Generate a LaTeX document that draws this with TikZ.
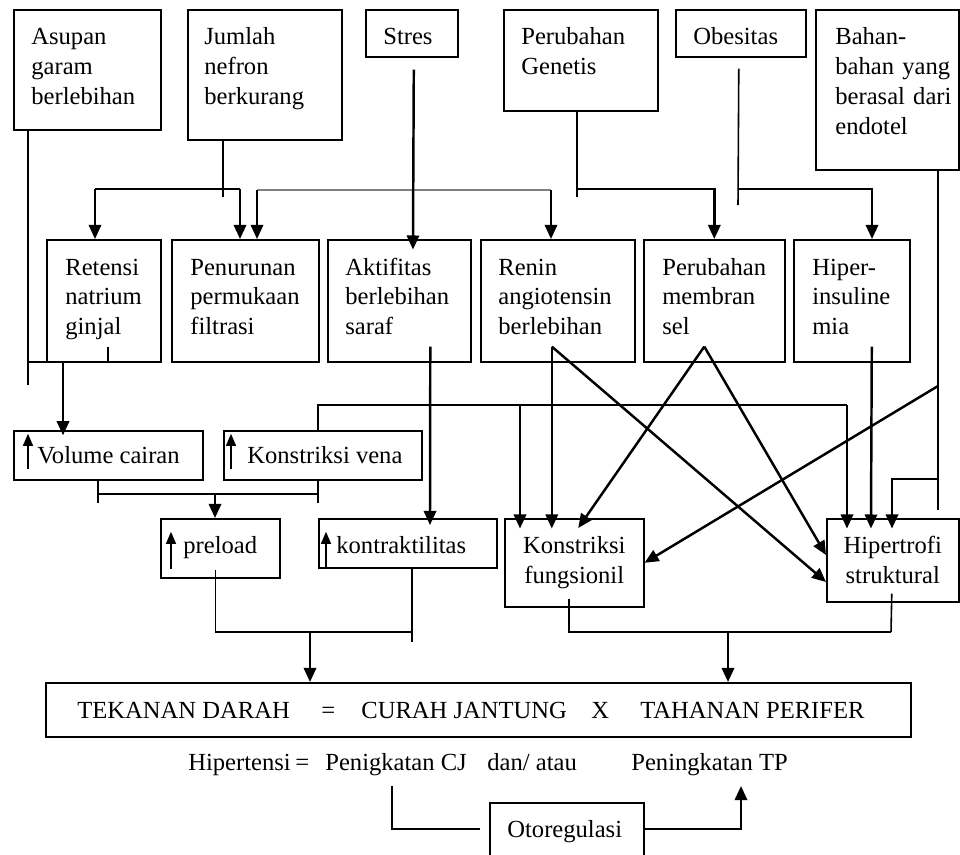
\documentclass[tikz,border=0pt]{standalone}
\usepackage{fontspec}
\setmainfont{Liberation Serif}
\usetikzlibrary{arrows.meta,calc}

\tikzset{
  kotak/.style={draw, line width=0.9pt, anchor=north west, inner sep=0pt},
  isi/.style={anchor=base west, align=left, text width=2.9cm, inner sep=0pt},
  satu/.style={anchor=base west, inner sep=0pt},
  ln/.style={line width=0.9pt},
  panah/.style={line width=1.4pt, -{Triangle[length=8pt,width=7pt]}},
  masuk/.style={shorten >=-6pt},
  naik/.style={line width=1.4pt, -{Triangle[length=7pt,width=5.5pt]}},
}
\def\kotak[#1](#2,#3)(#4,#5){%
  \pgfmathsetmacro\kw{(#4-#2)*0.02}%
  \pgfmathsetmacro\kh{(#5-#3)*0.02}%
  \node[kotak, minimum width=\kw cm, minimum height=\kh cm] (#1) at (#2,#3) {};}

\begin{document}
\begin{tikzpicture}[x=0.02cm, y=-0.02cm, font=\fontsize{14}{17}\selectfont]
  \clip (0,0) rectangle (960,855);
  %%%%% penyebab %%%%%
  \kotak[asupan](13,9)(160,129)
  \kotak[jumlah](187,9)(341,139)
  \kotak[stres](365,9)(457,56)
  \kotak[genetis](503,9)(657,110)
  \kotak[obesitas](675,9)(805,56)
  \kotak[bahan](815,9)(958,169)
  \node[isi] (asupan-t) at ($(asupan.north west)+(18,36)$) {Asupan\\garam\\berlebihan};
  \node[isi] (jumlah-t) at ($(jumlah.north west)+(17,36)$) {Jumlah\\nefron\\berkurang};
  \node[satu] (stres-t) at ($(stres.north west)+(18,36)$) {Stres};
  \node[isi] (genetis-t) at ($(genetis.north west)+(18,36)$) {Perubahan\\Genetis};
  \node[satu] (obesitas-t) at ($(obesitas.north west)+(18,36)$) {Obesitas};
  \node[isi] (bahan-t) at ($(bahan.north west)+(20,36)$) {Bahan-\\bahan yang\\berasal dari\\endotel};

  %%%%% mekanisme %%%%%
  \kotak[retensi](46,239)(160,361)
  \kotak[penurunan](171,239)(318,361)
  \kotak[aktifitas](327,239)(470,361)
  \kotak[renin](480,239)(634,361)
  \kotak[membran](643,239)(784,361)
  \kotak[insulin](793,239)(909,361)
  \node[isi] (retensi-t) at ($(retensi.north west)+(19,36)$) {Retensi\\natrium\\ginjal};
  \node[isi] (penurunan-t) at ($(penurunan.north west)+(19,36)$) {Penurunan\\permukaan\\filtrasi};
  \node[isi] (aktifitas-t) at ($(aktifitas.north west)+(18,36)$) {Aktifitas\\berlebihan\\saraf};
  \node[isi] (renin-t) at ($(renin.north west)+(18,36)$) {Renin\\angiotensin\\berlebihan};
  \node[isi] (membran-t) at ($(membran.north west)+(19,36)$) {Perubahan\\membran\\sel};
  \node[isi] (insulin-t) at ($(insulin.north west)+(19,36)$) {Hiper-\\insuline\\mia};

  %%%%% akibat %%%%%
  \kotak[volume](13,430)(202,479)
  \kotak[vena](223,430)(421,479)
  \kotak[preload](160,518)(279,577)
  \kotak[kontrak](318,518)(496,567)
  \node[satu] (volume-t) at ($(volume.north west)+(24,33)$) {Volume cairan};
  \node[satu] (vena-t) at ($(vena.north west)+(24,33)$) {Konstriksi vena};
  \node[satu] (preload-t) at ($(preload.north west)+(23,35)$) {preload};
  \node[satu] (kontrak-t) at ($(kontrak.north west)+(18,35)$) {kontraktilitas};
  \draw[naik] ($(volume.south west)+(15,-12)$) -- ++(0,-35);
  \draw[naik] ($(vena.south west)+(8,-12)$) -- ++(0,-35);
  \draw[naik] ($(preload.south west)+(11,-10)$) -- ++(0,-37);
  \draw[naik] ($(kontrak.south west)+(8,0)$) -- ++(0,-37);
  \node[kotak, minimum width=2.78cm, minimum height=1.76cm, align=center] (fungsi) at (504,518) {Konstriksi\\fungsionil};
  \node[kotak, minimum width=2.64cm, minimum height=1.66cm, align=center] (hipertrofi) at (826,518) {Hipertrofi\\struktural};

  %%%%% rumus %%%%%
  \kotak[tekanan](45,682)(910,736)
  \node[satu] (td) at (77,718) {TEKANAN DARAH};
  \node[satu] (sama1) at (321,718) {=};
  \node[satu] (cur) at (361,718) {CURAH JANTUNG};
  \node[satu] (kali) at (591,718) {X};
  \node[satu] (tah) at (640,718) {TAHANAN PERIFER};
  \node[satu] (hip) at (188,770) {Hipertensi};
  \node[satu] (sama2) at (295,770) {=};
  \node[satu] (cj) at (325,770) {Penigkatan CJ};
  \node[satu] (atau) at (487,770) {dan/ atau};
  \node[satu] (tp) at (631,770) {Peningkatan TP};
  \kotak[otoreg](489,802)(643,880)
  \node[satu] (otoreg-t) at (507,837) {Otoregulasi};

  %%%%% panah atas %%%%%
  \draw[ln] (asupan.south -| 28,0) -- (28,385);
  \draw[ln] ($(retensi.south)+(4,-16)$) |- (28,362);
  \draw[panah, shorten >=-3pt] (63,362) -- (63,0 |- volume.north);
  \draw[ln] (jumlah.south -| 223,0) -- (223,197);
  \draw[ln] (95,189) -- (240,189);
  \draw[panah] (95,189) -- (95,0 |- retensi.north);
  \draw[panah] (240,189) -- (240,0 |- penurunan.north);
  \draw[ln, gray] (257,190) -- (551,190);
  \draw[panah] (257,190) -- (257,0 |- penurunan.north);
  \draw[panah] (551,190) -- (551,0 |- renin.north);
  \draw[panah, masuk] ($(stres.south)+(2,12)$) -- (413,0 |- aktifitas.north);
  \draw[ln] (genetis.south -| 577,0) -- (577,197);
  \draw[panah] (577,189) -| (membran.north);
  \draw[ln] ($(obesitas.south)+(-2,11)$) -- (738,205);
  \draw[panah] (738,189) -| (872,0 |- insulin.north);
  \draw[ln] (bahan.south -| 938,0) -- (938,510);
  \draw[panah, masuk] (938,479) -| (892,0 |- hipertrofi.north);
  \draw[panah] (938,386) -- (fungsi.east);

  %%%%% panah tengah %%%%%
  \draw[panah, shorten >=-4pt] ($(aktifitas.south)+(31,-16)$) -- (430,0 |- kontrak.north);
  \coordinate (rn) at ($(renin.south)+(-6,-16)$);
  \draw[panah, masuk] (rn) -- (rn |- fungsi.north);
  \draw[panah] (rn) -- (hipertrofi.west |- 0,582);
  \coordinate (mb) at ($(membran.south)+(-10,-16)$);
  \draw[panah] (mb) -- ($(fungsi.north)+(4,10)$);
  \draw[panah] (mb) -- (hipertrofi.west |- 0,555);
  \draw[panah, masuk] ($(insulin.south)+(20,-16)$) -- (871,0 |- hipertrofi.north);
  \draw[ln] (vena.north -| 318,0) |- (847,405);
  \draw[panah, masuk] (520,405) -- (520,0 |- fungsi.north);
  \draw[panah, masuk] (847,405) -- (847,0 |- hipertrofi.north);

  %%%%% panah bawah %%%%%
  \draw[ln] (volume.south -| 98,0) -- (98,503);
  \draw[ln] (vena.south -| 318,0) -- (318,503);
  \draw[ln] (98,494) -- (318,494);
  \draw[panah] (215,494) -- (215,0 |- preload.north);
  \draw[ln] ($(preload.south)+(-5,-9)$) |- (412,632);
  \draw[ln] (kontrak.south -| 412,0) -- (412,642);
  \draw[panah] (310,632) -- (310,0 |- tekanan.north);
  \draw[ln] ($(fungsi.south)+(-5,-9)$) |- (891,632);
  \draw[ln] ($(hipertrofi.south)+(-1,-9)$) -- (891,632);
  \draw[panah] (728,632) -- (728,0 |- tekanan.north);
  \draw[ln] ($(cj.south)+(-4,10)$) |- (480,829);
  \draw[panah] (otoreg.east |- 0,829) -| (741,786);
\end{tikzpicture}
\end{document}
